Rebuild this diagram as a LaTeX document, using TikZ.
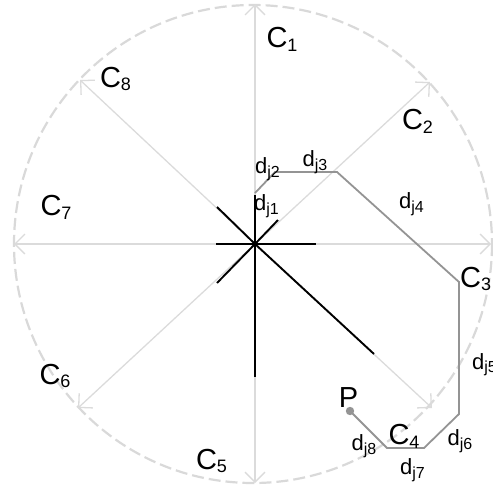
\documentclass[tikz,border=0pt]{standalone}
\usepackage{fontspec}
\setmainfont{Liberation Sans}
\usetikzlibrary{arrows.meta}
\newcommand{\csub}[1]{\raisebox{-3.5pt}{\fontsize{18}{18}\selectfont#1}}
\newcommand{\dsub}[1]{\raisebox{-3.5pt}{\fontsize{16}{16}\selectfont#1}}

\begin{document}
\begin{tikzpicture}[
  x=1pt, y=-1pt,
  ray/.style={draw=black!14, line width=1.3pt, -{Straight Barb[length=10pt, width=20pt]}},
  rim/.style={draw=black!15, line width=2.2pt, dash pattern=on 12pt off 5pt},
  spoke/.style={draw=black, line width=1.9pt},
  route/.style={draw=black!42, line width=1.8pt},
  clabel/.style={inner sep=0pt, font=\fontsize{29}{29}\selectfont},
  dlabel/.style={inner sep=0pt, font=\fontsize{22}{22}\selectfont}
]
  \useasboundingbox (0,0) rectangle (493,493);
  \coordinate (O) at (255,244);

  % neighbourhood circle and the eight class directions
  \draw[rim] (253,244) circle (239);
  \foreach \n/\tx/\ty in {1/255/4, 2/430/82, 3/491/244, 4/432/408,
                          5/255/483, 6/78/408, 7/14/244, 8/80/80}
    \draw[ray] (O) -- (\tx,\ty) coordinate (tip\n);

  % star of class weights
  \foreach \ex/\ey in {255/195, 255/377, 316/244, 216/244,
                       217/207, 278/220, 217/283, 374/354}
    \draw[spoke] (O) -- (\ex,\ey);

  % walk to P
  \coordinate (w0) at (255,193);
  \coordinate (w1) at (275,172);
  \coordinate (w2) at (337,172);
  \coordinate (w3) at (459,282);
  \coordinate (w4) at (459,414);
  \coordinate (w5) at (424,448);
  \coordinate (w6) at (387,448);
  \coordinate (wP) at (350,411);
  \draw[route] (w0) -- (w1) -- (w2) -- (w3) -- (w4) -- (w5) -- (w6) -- (wP);
  \fill[black!42] (wP) circle (4.2);

  % class labels
  \node[clabel] (c1) at (282,39.5) {C\csub{1}};
  \node[clabel] (c2) at (417.5,121.5) {C\csub{2}};
  \node[clabel, anchor=north west] (c3) at (460,267) {C\csub{3}};
  \node[clabel] (c4) at (404,436.5) {C\csub{4}};
  \node[clabel] (c5) at (211.5,461) {C\csub{5}};
  \node[clabel] (c6) at (55,376) {C\csub{6}};
  \node[clabel] (c7) at (56,207.5) {C\csub{7}};
  \node[clabel] (c8) at (115.5,79) {C\csub{8}};
  \node[clabel] (p) at (348.5,398) {P};

  % step labels
  \node[dlabel] (d1) at (266.5,206) {d\dsub{j1}};
  \node[dlabel] (d2) at (267.5,169) {d\dsub{j2}};
  \node[dlabel] (d3) at (315,162) {d\dsub{j3}};
  \node[dlabel] (d4) at (411.5,204) {d\dsub{j4}};
  \node[dlabel, anchor=north west] (d5) at (472,353) {d\dsub{j5}};
  \node[dlabel] (d6) at (460,441) {d\dsub{j6}};
  \node[dlabel] (d7) at (412.5,470) {d\dsub{j7}};
  \node[dlabel] (d8) at (364,446) {d\dsub{j8}};
\end{tikzpicture}
\end{document}
